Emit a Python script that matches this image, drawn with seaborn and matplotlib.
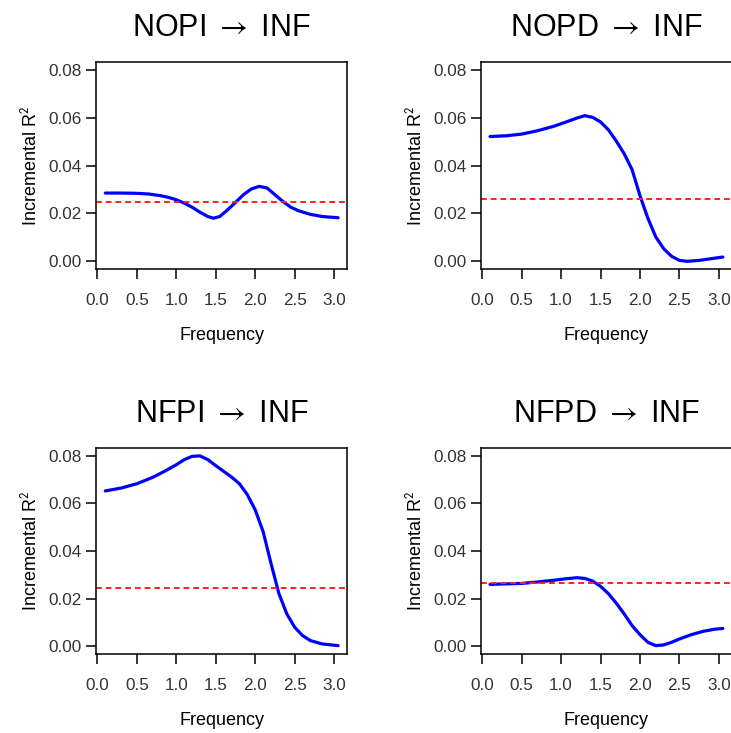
import numpy as np
import pandas as pd
import seaborn as sns
import matplotlib.pyplot as plt

# frequency grid and incremental R^2
freq_nopi = [0.1, 0.3, 0.5, 0.65, 0.8, 0.9, 1.0, 1.1, 1.2, 1.3, 1.4, 1.47, 1.55, 1.65, 1.75,
             1.85, 1.95, 2.05, 2.15, 2.25, 2.35, 2.45, 2.55, 2.7, 2.85, 3.05]
r2_nopi = [0.0285, 0.0285, 0.0284, 0.0281, 0.0274, 0.0267, 0.0257, 0.0243, 0.0226, 0.0205,
           0.0187, 0.0180, 0.0187, 0.0215, 0.0246, 0.0278, 0.0302, 0.0313, 0.0306, 0.0278,
           0.0250, 0.0226, 0.0211, 0.0196, 0.0187, 0.0182]

freq_nopd = [0.1, 0.3, 0.5, 0.7, 0.9, 1.05, 1.2, 1.3, 1.4, 1.5, 1.6, 1.7, 1.8, 1.9, 2.0, 2.1,
             2.2, 2.3, 2.4, 2.5, 2.6, 2.75, 2.9, 3.05]
r2_nopd = [0.0521, 0.0524, 0.0531, 0.0545, 0.0563, 0.0580, 0.0598, 0.0608, 0.0601, 0.0582,
           0.0549, 0.0502, 0.0449, 0.0383, 0.0274, 0.0180, 0.0102, 0.0053, 0.0021, 0.0004,
           0.0000, 0.0004, 0.0011, 0.0018]

freq_nfpi = [0.1, 0.3, 0.5, 0.7, 0.85, 1.0, 1.1, 1.2, 1.3, 1.4, 1.5, 1.6, 1.7, 1.8, 1.9, 2.0,
             2.1, 2.2, 2.3, 2.4, 2.5, 2.6, 2.7, 2.85, 3.05]
r2_nfpi = [0.0652, 0.0664, 0.0682, 0.0709, 0.0734, 0.0762, 0.0783, 0.0797, 0.0799, 0.0783,
           0.0758, 0.0734, 0.0710, 0.0682, 0.0636, 0.0572, 0.0481, 0.0347, 0.0221, 0.0136,
           0.0080, 0.0045, 0.0024, 0.0010, 0.0003]

freq_nfpd = [0.1, 0.3, 0.5, 0.7, 0.9, 1.05, 1.2, 1.3, 1.4, 1.5, 1.6, 1.7, 1.8, 1.9, 2.0, 2.1,
             2.2, 2.3, 2.4, 2.5, 2.65, 2.8, 2.95, 3.05]
r2_nfpd = [0.0260, 0.0262, 0.0264, 0.0270, 0.0277, 0.0283, 0.0288, 0.0285, 0.0274, 0.0252,
           0.0221, 0.0181, 0.0136, 0.0087, 0.0049, 0.0017, 0.0003, 0.0006, 0.0017, 0.0031,
           0.0049, 0.0063, 0.0072, 0.0075]

# significance thresholds (red dashed lines)
thresholds = [0.0246, 0.0261, 0.0246, 0.0266]
titles = ["NOPI $\\rightarrow$ INF", "NOPD $\\rightarrow$ INF",
          "NFPI $\\rightarrow$ INF", "NFPD $\\rightarrow$ INF"]
y_ticks = [0.00, 0.02, 0.04, 0.06, 0.08]
x_ticks = [0.0, 0.5, 1.0, 1.5, 2.0, 2.5, 3.0]

series = [(freq_nopi, r2_nopi), (freq_nopd, r2_nopd), (freq_nfpi, r2_nfpi), (freq_nfpd, r2_nfpd)]

sns.set_style("ticks")
plt.rcParams['font.family'] = ['Liberation Sans', 'DejaVu Sans']
plt.rcParams['mathtext.fontset'] = 'stixsans'

fig = plt.figure(figsize=(7.31, 7.33), dpi=100)

# axes boxes in figure fractions: left, bottom, width, height
boxes = [
    [0.1313, 0.633, 0.344, 0.2824],
    [0.6576, 0.633, 0.344, 0.2824],
    [0.1313, 0.1078, 0.344, 0.2810],
    [0.6576, 0.1078, 0.344, 0.2810],
]

for i, (fx, ry) in enumerate(series):
    ax = fig.add_axes(boxes[i])
    df = pd.DataFrame({"Frequency": fx, "R2": ry})
    sns.lineplot(data=df, x="Frequency", y="R2", ax=ax, color="#0000ff", linewidth=2.3,
                 solid_capstyle="round", solid_joinstyle="round")
    ax.axhline(thresholds[i], color="#ff2020", linestyle=(0, (3, 2)), linewidth=1.4)
    ax.set_xlim(-0.018, 3.168)
    ax.set_ylim(-0.0032, 0.0832)
    ax.set_xticks(x_ticks)
    ax.set_yticks(y_ticks)
    ax.set_xticklabels([f"{t:.1f}" for t in x_ticks])
    ax.set_yticklabels([f"{t:.2f}" for t in y_ticks])
    ax.tick_params(direction="out", length=7, width=1.1, labelsize=12.3,
                   labelcolor="#333333", color="black")
    ax.tick_params(axis="x", pad=10)
    ax.tick_params(axis="y", pad=3)
    for sp in ax.spines.values():
        sp.set_visible(True)
        sp.set_linewidth(1.1)
        sp.set_color("black")
    ax.set_xlabel("Frequency", fontsize=13, labelpad=14, color="black")
    ax.set_ylabel("Incremental R$^2$", fontsize=13, labelpad=6, color="black")
    ax.set_title(titles[i], fontsize=22, pad=19, color="black")

plt.savefig("out.png", dpi=100)
